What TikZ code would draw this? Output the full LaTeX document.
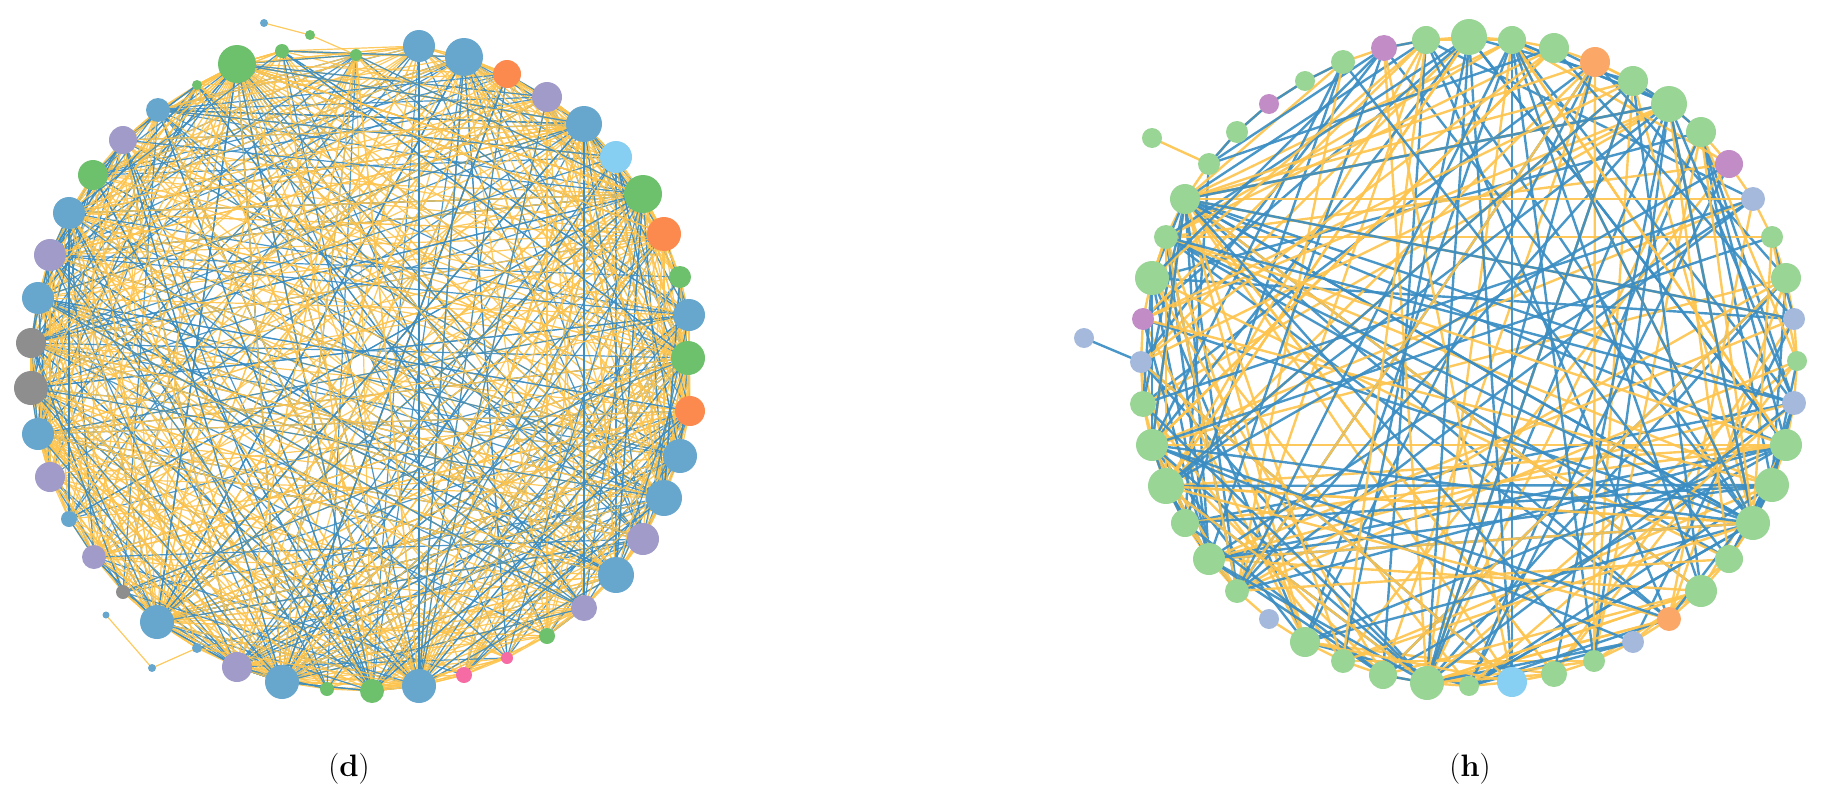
\documentclass[tikz,border=0pt]{standalone}
\usetikzlibrary{backgrounds}
\definecolor{eb}{HTML}{3A8DC3}
\definecolor{eo}{HTML}{FDC44F}
\definecolor{lb}{HTML}{67A7CE}
\definecolor{lg}{HTML}{6DC16D}
\definecolor{lp}{HTML}{A09BC8}
\definecolor{lo}{HTML}{FC8A4F}
\definecolor{lgy}{HTML}{8E8E8E}
\definecolor{llb}{HTML}{87CEF3}
\definecolor{lpk}{HTML}{F76BA4}
\definecolor{rg}{HTML}{99D595}
\definecolor{rp}{HTML}{C28DC6}
\definecolor{rbg}{HTML}{A4B9DB}
\definecolor{ro}{HTML}{FBA768}
\definecolor{rlb}{HTML}{87CFF3}
\tikzset{
  nd/.style={circle,inner sep=0pt,outer sep=0pt,draw=none},
  ledge/.style={line width=1.2pt,opacity=0.9},
  redge/.style={line width=2.4pt,opacity=0.92},
  lab/.style={font=\fontsize{31}{36}\selectfont,inner sep=0pt}
}
\pgfmathdeclarerandomlist{Lpool}{{1}{1}{1}{1}{1}{2}{3}{4}{4}{5}{5}{5}{6}{6}{7}{7}{8}{8}{8}{8}{8}{9}{9}{10}{10}{10}{11}{11}{11}{12}{13}{13}{14}{14}{14}{15}{15}{16}{16}{16}{17}{17}{17}{18}{18}{19}{19}{19}{20}{20}{21}{22}{23}{24}{24}{24}{24}{24}{25}{25}{26}{27}{27}{27}{27}{27}{28}{28}{28}{29}{30}{30}{30}{30}{30}{31}{32}{32}{33}{34}{34}{35}{35}{35}{36}{36}{36}{37}{37}{37}{38}{38}{38}{39}{39}{39}{40}{40}{40}{41}{41}{41}{42}{42}{43}{43}{44}}
\pgfmathdeclarerandomlist{Rpool}{{1}{1}{2}{2}{3}{3}{3}{3}{4}{4}{5}{5}{5}{5}{6}{10}{11}{11}{12}{12}{13}{13}{13}{14}{14}{15}{15}{16}{16}{17}{17}{18}{18}{18}{18}{19}{19}{20}{20}{21}{21}{22}{23}{23}{24}{25}{26}{26}{27}{27}{27}{28}{28}{28}{29}{29}{29}{29}{30}{30}{31}{31}{31}{32}{32}{33}{34}{35}{35}{36}{36}{37}{38}{38}{38}{38}{39}{39}{40}{40}{41}{41}{42}{43}{43}{44}{44}{44}{45}{45}{46}{46}{46}{46}{47}{47}{47}{47}{48}{48}}
\begin{document}
\begin{tikzpicture}[x=1pt,y=-1pt]
\useasboundingbox (0,0) rectangle (1826,800);
% left graph nodes
\foreach \n/\x/\y/\d/\c in {
1/237/64/38/lg, 2/282/51/14/lg, 3/356/55/12/lg, 4/419/46/32/lb, 5/464/57/38/lb,
6/507/74/28/lo, 7/547/97/30/lp, 8/584/124/36/lb, 9/616/157/32/llb, 10/643/194/38/lg,
11/664/234/34/lo, 12/680/277/22/lg, 13/689/315/32/lb, 14/688/358/34/lg, 15/690/411/30/lo,
16/680/456/34/lb, 17/664/498/36/lb, 18/643/539/32/lp, 19/616/575/36/lb, 20/584/608/26/lp,
21/547/636/16/lg, 22/507/658/12/lpk, 23/464/675/16/lpk, 24/419/686/34/lb, 25/372/691/24/lg,
26/327/689/14/lg, 27/282/682/34/lb, 28/237/667/30/lp, 29/197/648/10/lb, 30/157/622/34/lb,
31/123/592/14/lgy, 32/94/557/24/lp, 33/69/519/16/lb, 34/50/477/30/lp, 35/38/434/32/lb,
36/31/388/34/lgy, 37/31/343/30/lgy, 38/38/298/32/lb, 39/50/255/32/lp, 40/69/213/32/lb,
41/93/175/30/lg, 42/123/140/28/lp, 43/158/110/24/lb, 44/197/85/10/lg,
45/310/35/10/lg, 46/264/23/8/lb, 47/152/668/8/lb, 48/106/615/7/lb}
  \node[nd,fill=\c,minimum size=\d pt] (L\n) at (\x,\y) {};
% right graph nodes
\foreach \n/\x/\y/\d/\c in {
1/1141/362/22/rbg, 2/1143/319/22/rp, 3/1152/278/34/rg, 4/1166/237/24/rg, 5/1185/199/30/rg,
6/1209/164/22/rg, 7/1237/132/22/rg, 8/1269/104/20/rp, 9/1305/81/20/rg, 10/1343/62/24/rg,
11/1384/48/26/rp, 12/1426/40/28/rg, 13/1469/37/36/rg, 14/1512/40/28/rg, 15/1554/48/30/rg,
16/1595/62/30/ro, 17/1633/81/30/rg, 18/1669/104/36/rg, 19/1701/132/30/rg, 20/1729/164/28/rp,
21/1753/199/24/rbg, 22/1772/237/22/rg, 23/1786/278/30/rg, 24/1794/319/22/rbg, 25/1797/361/20/rg,
26/1794/403/24/rbg, 27/1786/445/32/rg, 28/1772/485/34/rg, 29/1753/523/34/rg, 30/1729/559/28/rg,
31/1701/591/32/rg, 32/1669/619/24/ro, 33/1633/642/22/rbg, 34/1594/661/22/rg, 35/1554/674/26/rg,
36/1512/682/30/rlb, 37/1469/686/20/rg, 38/1427/683/34/rg, 39/1383/675/28/rg, 40/1343/661/24/rg,
41/1305/642/30/rg, 42/1269/619/20/rbg, 43/1237/591/24/rg, 44/1209/559/32/rg, 45/1185/523/28/rg,
46/1166/486/36/rg, 47/1152/445/32/rg, 48/1143/404/26/rg, 49/1084/338/20/rbg, 50/1152/138/20/rg}
  \node[nd,fill=\c,minimum size=\d pt] (R\n) at (\x,\y) {};
% labels
\node[lab] (labd) at (349,769) {(\textbf{d})};
\node[lab] (labh) at (1470,769) {(\textbf{h})};
\begin{pgfonlayer}{background}
\pgfmathsetseed{2024}
% left perimeter
\foreach \i [evaluate=\i as \j using {int(mod(\i,44)+1)}, evaluate=\i as \k using {int(mod(\i+1,44)+1)}] in {1,...,44}{
  \draw[ledge,draw=eo] (L\i.center) -- (L\j.center);
  \draw[ledge,draw=eo] (L\i.center) -- (L\k.center);
}
\draw[ledge,draw=eo] (L46.center) -- (L45.center) -- (L3.center);
\draw[ledge,draw=eo] (L48.center) -- (L47.center) -- (L29.center);
% left random edges
\foreach \t in {1,...,980}{
  \pgfmathrandomitem{\a}{Lpool}
  \pgfmathrandomitem{\b}{Lpool}
  \pgfmathparse{rnd<0.36?1:0}
  \ifnum\a=\b\else
    \ifnum\pgfmathresult=1
      \draw[ledge,draw=eb] (L\a.center) -- (L\b.center);
    \else
      \draw[ledge,draw=eo] (L\a.center) -- (L\b.center);
    \fi
  \fi
}
% right perimeter
\foreach \i [evaluate=\i as \j using {int(mod(\i,48)+1)}] in {1,...,48}{
  \draw[redge,draw=eo] (R\i.center) -- (R\j.center);
}
\draw[redge,draw=eb] (R6.center) -- (R7.center) -- (R8.center) -- (R9.center) -- (R10.center);
\draw[redge,draw=eb] (R49.center) -- (R1.center);
\draw[redge,draw=eo] (R50.center) -- (R6.center);
% right random edges
\foreach \t in {1,...,270}{
  \pgfmathrandomitem{\a}{Rpool}
  \pgfmathrandomitem{\b}{Rpool}
  \pgfmathparse{rnd<0.5?1:0}
  \ifnum\a=\b\else
    \ifnum\pgfmathresult=1
      \draw[redge,draw=eb] (R\a.center) -- (R\b.center);
    \else
      \draw[redge,draw=eo] (R\a.center) -- (R\b.center);
    \fi
  \fi
}
\end{pgfonlayer}
\end{tikzpicture}
\end{document}
